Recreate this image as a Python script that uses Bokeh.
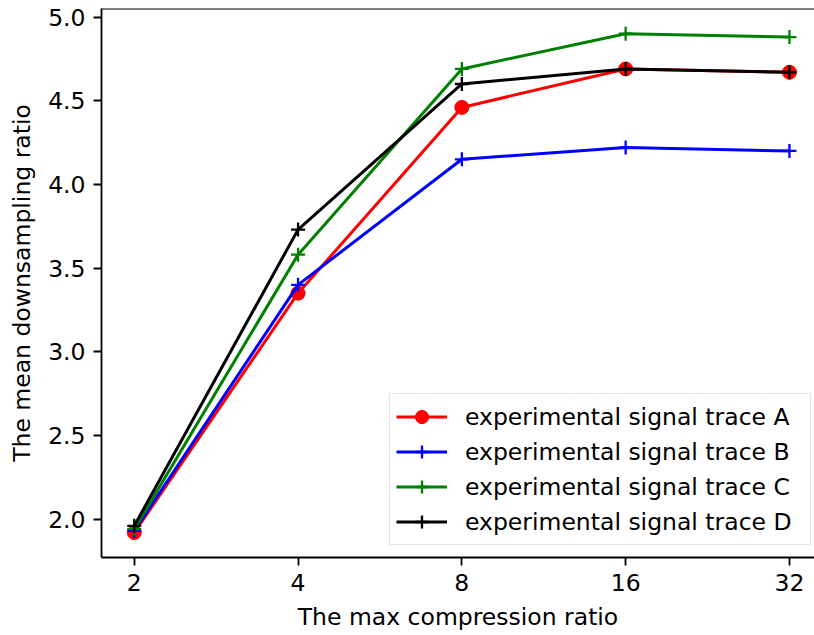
from bokeh.plotting import figure
from bokeh.models import FixedTicker, Span, Legend, LegendItem, Range1d
from bokeh.embed import file_html
from bokeh.resources import INLINE

# ---- data ----
x_labels = ["2", "4", "8", "16", "32"]
trace_a = [1.92, 3.35, 4.46, 4.69, 4.67]
trace_b = [1.93, 3.40, 4.15, 4.22, 4.20]
trace_c = [1.94, 3.58, 4.69, 4.90, 4.88]
trace_d = [1.96, 3.73, 4.60, 4.69, 4.67]
y_ticks = [2.0, 2.5, 3.0, 3.5, 4.0, 4.5, 5.0]
y_tick_labels = ["2.0", "2.5", "3.0", "3.5", "4.0", "4.5", "5.0"]
series_names = ["experimental signal trace A", "experimental signal trace B",
                "experimental signal trace C", "experimental signal trace D"]

FONT = "DejaVu Sans"
FS = "23.5px"

xs = list(range(len(x_labels)))
y0, y1 = 1.771, 5.051

p = figure(width=814, height=635, output_backend="svg", toolbar_location=None,
           x_range=Range1d(-0.2, 4.153), y_range=Range1d(y0, y1),
           min_border_left=101, min_border_right=0, min_border_top=8,
           min_border_bottom=78)
p.grid.visible = False
p.outline_line_color = None
p.background_fill_color = "white"
p.border_fill_color = "white"

for ax in (p.xaxis[0], p.yaxis[0]):
    ax.axis_line_width = 1.8
    ax.major_tick_line_width = 1.8
    ax.major_tick_out = 8
    ax.major_tick_in = 0
    ax.minor_tick_line_color = None
    ax.major_label_text_font = FONT
    ax.major_label_text_font_size = FS
    ax.major_label_text_color = "black"
    ax.axis_label_text_font = FONT
    ax.axis_label_text_font_size = FS
    ax.axis_label_text_font_style = "normal"
    ax.axis_label_text_color = "black"
    ax.major_label_standoff = 8

p.xaxis.ticker = FixedTicker(ticks=xs)
p.xaxis.major_label_overrides = {i: lab for i, lab in zip(xs, x_labels)}
p.yaxis.ticker = FixedTicker(ticks=y_ticks)
p.yaxis.major_label_overrides = {t: lab for t, lab in zip(y_ticks, y_tick_labels)}
p.xaxis.axis_label = "The max compression ratio"
p.yaxis.axis_label = "The mean downsampling ratio"
p.xaxis.axis_label_standoff = 9
p.yaxis.axis_label_standoff = 9

p.add_layout(Span(location=y1, dimension="width", line_color="black", line_width=1.8))

LW = 3
la = p.line(xs, trace_a, line_color="#ff0000", line_width=LW)
sa = p.scatter(xs, trace_a, marker="circle", size=14, fill_color="#ff0000", line_color="#ff0000")
lb = p.line(xs, trace_b, line_color="#0000ff", line_width=LW)
sb = p.scatter(xs, trace_b, marker="cross", size=14, line_color="#0000ff", line_width=2.3)
lc = p.line(xs, trace_c, line_color="#008000", line_width=LW)
sc = p.scatter(xs, trace_c, marker="cross", size=14, line_color="#008000", line_width=2.3)
ld = p.line(xs, trace_d, line_color="#000000", line_width=LW)
sd = p.scatter(xs, trace_d, marker="cross", size=14, line_color="#000000", line_width=2.3)

legend = Legend(items=[
    LegendItem(label=series_names[0], renderers=[la, sa]),
    LegendItem(label=series_names[1], renderers=[lb, sb]),
    LegendItem(label=series_names[2], renderers=[lc, sc]),
    LegendItem(label=series_names[3], renderers=[ld, sd]),
], location=(288, 12))
legend.margin = 0
legend.padding = 6
legend.spacing = 2
legend.glyph_width = 51
legend.glyph_height = 33
legend.label_standoff = 18
legend.label_width = 339
legend.label_text_font = FONT
legend.label_text_font_size = FS
legend.label_text_color = "black"
legend.border_line_color = "#cccccc"
legend.border_line_width = 1.5
legend.background_fill_alpha = 0.8
p.add_layout(legend)

open("out.html", "w").write(file_html(p, INLINE))
